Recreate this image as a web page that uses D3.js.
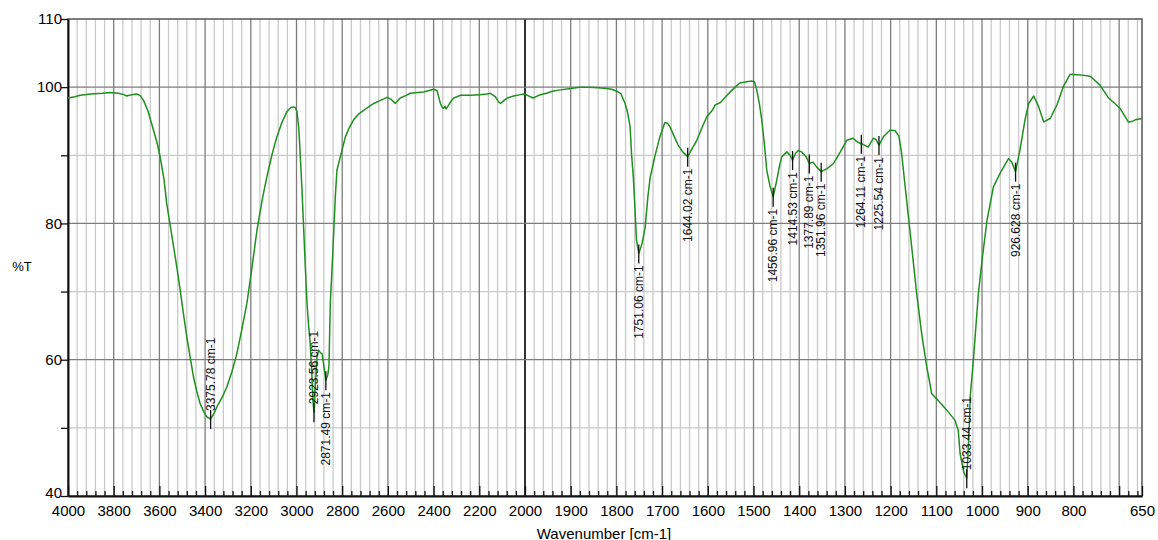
<!DOCTYPE html>
<html>
<head>
<meta charset="utf-8">
<script src="https://cdn.jsdelivr.net/npm/d3@7"></script>
<style>
  html, body { margin: 0; padding: 0; background: #fff; }
  svg { display: block; font-family: "Liberation Sans", Arial, sans-serif; }
</style>
</head>
<body>
<svg id="chart" width="1158" height="540"></svg>
<script>
// FTIR transmittance spectrum (wavenumber in cm-1, %T)
const wavenumber = [
  4000, 3970, 3947, 3900, 3850, 3816, 3780, 3755, 3743, 3720, 3699, 3685, 3670, 3650, 3626, 3610,
  3597, 3580, 3568, 3553, 3538, 3523, 3509, 3495, 3480, 3465, 3451, 3436, 3422, 3405, 3392, 3375.78,
  3360, 3348, 3325, 3305, 3283, 3261, 3240, 3217, 3195, 3173, 3150, 3130, 3108, 3086, 3064, 3042,
  3025, 3013, 3005, 2998, 2990, 2984, 2976, 2969, 2962, 2954, 2947, 2940, 2933, 2928, 2923.56, 2918,
  2910, 2903, 2895, 2888, 2880, 2871.49, 2863, 2858, 2852, 2845, 2838, 2830, 2823, 2808, 2786, 2770,
  2750, 2730, 2706, 2680, 2662, 2630, 2604, 2585, 2568, 2546, 2520, 2502, 2470, 2444, 2420, 2400,
  2385, 2375, 2370, 2362, 2356, 2350, 2345, 2334, 2322, 2312, 2282, 2240, 2200, 2165, 2151, 2130,
  2115, 2107, 2090, 2078, 2050, 2020, 2005, 1995, 1982, 1970, 1953, 1940, 1923, 1900, 1880, 1860,
  1840, 1821, 1810, 1799, 1790, 1781, 1776, 1770, 1767, 1763, 1760, 1756, 1751.06, 1744, 1737, 1731,
  1726, 1716, 1705, 1694, 1688, 1683, 1675, 1665, 1655, 1644.02, 1634, 1624, 1613, 1602, 1590, 1584,
  1573, 1562, 1551, 1540, 1530, 1515, 1504, 1498, 1493, 1487, 1482, 1476, 1471, 1464, 1456.96, 1449,
  1443, 1438, 1427, 1420, 1414.53, 1408, 1402, 1395, 1385, 1377.89, 1370, 1362, 1351.96, 1340, 1325, 1310,
  1296, 1282, 1274, 1264.11, 1249, 1238, 1232, 1225.54, 1215, 1201, 1190, 1182, 1176, 1165, 1154, 1143,
  1132, 1121, 1110, 1096, 1077, 1059, 1052, 1048, 1040, 1033.44, 1028, 1026, 1019, 1008, 1000, 989,
  975, 957, 942, 935, 926.628, 917, 906, 898, 887, 876, 865, 851, 836, 822, 807, 785,
  763, 742, 723, 698, 680, 670, 665, 650
];
const transmittance = [
  98.4, 98.6, 98.8, 99.0, 99.1, 99.2, 99.1, 98.9, 98.7, 98.9, 99.0, 98.8, 98.1, 96.5, 93.7, 91.8,
  89.8, 86.5, 82.9, 79.8, 76.6, 73.4, 70.2, 66.8, 63.3, 60.3, 57.5, 55.3, 53.6, 52.3, 51.6, 51.3,
  52.2, 53.1, 54.5, 56.0, 58.2, 60.9, 64.3, 68.3, 73.5, 79.0, 83.5, 86.8, 90.0, 92.7, 94.8, 96.4,
  97.0, 97.1, 97.0, 96.4, 94.0, 90.3, 85.0, 79.5, 74.0, 68.3, 65.0, 62.4, 58.0, 54.0, 52.3, 56.0,
  60.5, 61.4, 61.0, 60.9, 59.0, 57.0, 57.8, 59.0, 68.3, 73.0, 78.0, 84.0, 87.8, 89.8, 92.7, 94.0,
  95.2, 96.0, 96.6, 97.2, 97.6, 98.1, 98.5, 98.2, 97.6, 98.4, 98.8, 99.1, 99.2, 99.3, 99.5, 99.7,
  99.5, 98.2, 97.6, 97.0, 96.9, 97.2, 96.8, 97.4, 98.0, 98.4, 98.8, 98.8, 98.9, 99.0, 99.1, 98.6,
  97.8, 97.6, 98.1, 98.4, 98.7, 98.9, 99.0, 98.8, 98.4, 98.8, 99.1, 99.4, 99.6, 99.8, 100.0, 100.0,
  99.9, 99.8, 99.7, 99.4, 99.0, 97.6, 96.4, 94.2, 90.3, 86.8, 83.0, 77.5, 75.6, 77.0, 79.5, 84.0,
  86.8, 89.8, 92.7, 94.8, 94.7, 94.2, 93.0, 91.5, 90.5, 89.8, 91.0, 92.2, 94.0, 95.7, 96.6, 97.4,
  97.7, 98.5, 99.3, 100.0, 100.6, 100.8, 100.9, 100.8, 99.6, 97.5, 95.2, 91.5, 87.8, 85.5, 83.9, 86.4,
  88.5, 89.8, 90.5, 90.0, 89.3, 90.3, 90.7, 90.5, 89.8, 88.8, 89.0, 88.3, 87.6, 88.0, 88.8, 90.5,
  92.2, 92.5, 92.0, 91.7, 91.2, 92.5, 92.3, 91.5, 92.8, 93.7, 93.6, 92.8, 90.3, 83.4, 76.6, 69.7,
  63.8, 59.0, 55.0, 54.0, 52.6, 51.1, 49.6, 46.2, 43.5, 42.6, 50.0, 54.5, 59.9, 69.7, 74.6, 80.5,
  85.4, 87.8, 89.5, 89.0, 87.6, 90.8, 95.2, 97.6, 98.7, 97.1, 94.9, 95.4, 97.4, 100.1, 101.9, 101.8,
  101.6, 100.3, 98.4, 96.9, 94.9, 95.0, 95.2, 95.4
];

// Picked peaks and their printed labels
const peakWavenumbers = [3375.78, 2923.56, 2871.49, 1751.06, 1644.02, 1456.96, 1414.53, 1377.89,
  1351.96, 1264.11, 1225.54, 1033.44, 926.628];
const peakLabels = ["3375.78 cm-1", "2923.56 cm-1", "2871.49 cm-1", "1751.06 cm-1", "1644.02 cm-1",
  "1456.96 cm-1", "1414.53 cm-1", "1377.89 cm-1", "1351.96 cm-1", "1264.11 cm-1", "1225.54 cm-1",
  "1033.44 cm-1", "926.628 cm-1"];

// Axis ticks
const xMajorTicks = [4000, 3800, 3600, 3400, 3200, 3000, 2800, 2600, 2400, 2200, 2000,
  1900, 1800, 1700, 1600, 1500, 1400, 1300, 1200, 1100, 1000, 900, 800, 700];
const xTickLabels = [4000, 3800, 3600, 3400, 3200, 3000, 2800, 2600, 2400, 2200, 2000,
  1900, 1800, 1700, 1600, 1500, 1400, 1300, 1200, 1100, 1000, 900, 800, 650];
const yTicks = [110, 100, 90, 80, 70, 60, 50, 40];
const yTickLabels = [110, 100, 80, 60, 40];
const yMajorGrid = [100, 80, 60];
const yMinorGrid = [90, 70, 50];

const svg = d3.select("#chart");
const plot = { left: 68, right: 1142, top: 19, bottom: 496 };

// Two-range wavenumber axis: 4000-2000 compressed, 2000-650 expanded
const x = d3.scaleLinear().domain([4000, 2000, 650]).range([plot.left, 525, plot.right]);
const y = d3.scaleLinear().domain([40, 110]).range([plot.bottom, plot.top]);

// Minor vertical grid: every 40 above 2000, every 20 below
const xMinor = d3.range(4000, 2000, -40).concat(d3.range(2000, 649, -20))
  .filter(v => !xMajorTicks.includes(v) && v !== 650);

const grid = svg.append("g");
grid.selectAll(".vmin").data(xMinor).join("line")
  .attr("x1", d => x(d)).attr("x2", d => x(d))
  .attr("y1", plot.top).attr("y2", plot.bottom)
  .attr("stroke", "#c9c9c9").attr("stroke-width", 1.3);
grid.selectAll(".hmin").data(yMinorGrid).join("line")
  .attr("x1", plot.left).attr("x2", plot.right)
  .attr("y1", d => y(d)).attr("y2", d => y(d))
  .attr("stroke", "#c9c9c9").attr("stroke-width", 1.3);
grid.selectAll(".vmaj").data(xMajorTicks.filter(v => v !== 4000)).join("line")
  .attr("x1", d => x(d)).attr("x2", d => x(d))
  .attr("y1", plot.top).attr("y2", plot.bottom)
  .attr("stroke", d => d === 2000 ? "#000" : "#7d7d7d")
  .attr("stroke-width", d => d === 2000 ? 1.6 : 1.3);
grid.selectAll(".hmaj").data(yMajorGrid).join("line")
  .attr("x1", plot.left).attr("x2", plot.right)
  .attr("y1", d => y(d)).attr("y2", d => y(d))
  .attr("stroke", "#7d7d7d").attr("stroke-width", 1.3);

// Frame
svg.append("rect")
  .attr("x", plot.left).attr("y", plot.top)
  .attr("width", plot.right - plot.left).attr("height", plot.bottom - plot.top)
  .attr("fill", "none").attr("stroke", "#555").attr("stroke-width", 1.5);

// Bottom axis: minor inner ticks, then labelled major ticks
const axMinor = svg.append("g").attr("transform", `translate(0,${plot.bottom})`)
  .call(d3.axisBottom(x).tickValues(xMinor).tickSize(-5).tickFormat(""));
axMinor.select(".domain").remove();
axMinor.selectAll("line").attr("stroke", "#111").attr("stroke-width", 1.3);

const axMajor = svg.append("g").attr("transform", `translate(0,${plot.bottom})`)
  .call(d3.axisBottom(x).tickValues(xMajorTicks.concat([650]))
    .tickSizeInner(-10).tickSizeOuter(0).tickPadding(9)
    .tickFormat(d => xTickLabels.includes(d) ? String(d) : ""));
axMajor.select(".domain").attr("stroke", "#111").attr("stroke-width", 2);
axMajor.selectAll("line").attr("stroke", "#111").attr("stroke-width", 1.3);
axMajor.selectAll("text").attr("font-size", 15).attr("fill", "#000")
  .attr("font-family", "'Liberation Sans', Arial, sans-serif");

// Left axis
const axLeft = svg.append("g").attr("transform", `translate(${plot.left},0)`)
  .call(d3.axisLeft(y).tickValues(yTicks).tickSizeInner(7).tickSizeOuter(0).tickPadding(-1)
    .tickFormat(d => yTickLabels.includes(d) ? String(d) : ""));
axLeft.select(".domain").attr("stroke", "#111").attr("stroke-width", 2);
axLeft.selectAll("line").attr("stroke", "#111").attr("stroke-width", 1.3);
axLeft.selectAll("text").attr("font-size", 15).attr("fill", "#000")
  .attr("font-family", "'Liberation Sans', Arial, sans-serif")
  .attr("dy", d => d === 40 ? "0.1em" : "0.32em");

// Axis titles
svg.append("text").attr("x", 22).attr("y", 266)
  .attr("text-anchor", "middle").attr("dominant-baseline", "central")
  .attr("font-size", 13).attr("fill", "#000").text("%T");
svg.append("text").attr("x", 604).attr("y", 533)
  .attr("text-anchor", "middle").attr("dominant-baseline", "central")
  .attr("font-size", 15).attr("fill", "#000").text("Wavenumber [cm-1]");

// Spectrum trace
const spectrum = wavenumber.map((w, i) => ({ w, t: transmittance[i] }));
svg.append("path").datum(spectrum)
  .attr("fill", "none").attr("stroke", "#1f8f1f").attr("stroke-width", 1.5)
  .attr("stroke-linejoin", "round")
  .attr("d", d3.line().x(d => x(d.w)).y(d => y(d.t)));

// Peak markers and rotated labels; deep bands get the label above the mark
const tAt = w => {
  const i = wavenumber.findIndex(v => Math.abs(v - w) < 1e-6);
  return transmittance[i];
};
const peaks = peakWavenumbers.map((w, i) => ({ w, t: tAt(w), label: peakLabels[i] }));
const pk = svg.append("g");
pk.selectAll("line").data(peaks).join("line")
  .attr("x1", d => x(d.w)).attr("x2", d => x(d.w))
  .attr("y1", d => y(d.t) - 9).attr("y2", d => y(d.t) + 10)
  .attr("stroke", "#111").attr("stroke-width", 1.3);
pk.selectAll("text").data(peaks).join("text")
  .attr("transform", d => {
    const above = d.t < 55;
    const yy = above ? y(d.t) - 8 : y(d.t) + 12;
    return `translate(${x(d.w)},${yy}) rotate(-90)`;
  })
  .attr("text-anchor", d => d.t < 55 ? "start" : "end")
  .attr("dominant-baseline", "central")
  .attr("font-size", 12).attr("fill", "#111")
  .text(d => d.label);
</script>
</body>
</html>
